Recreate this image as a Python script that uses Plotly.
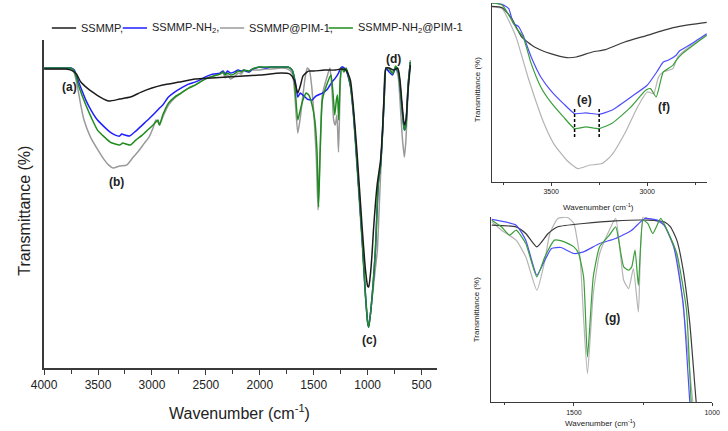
import plotly.graph_objects as go

# ---------------- main panel data (transmittance, arbitrary units) ----------------
wn_black = [4000,3800,3750,3700,3660,3600,3550,3480,3400,3300,3200,3100,3000,2900,2750,2600,2450,2300,2150,2000,1800,1720,1680,1648,1620,1600,1550,1500,1400,1300,1250,1200,1160,1130,1100,1050,1020,1000,990,975,960,946,925,910,880,860,845,830,800,760,720,700,680,660,645,625,604]
t_black  = [299,299,298,294,286,280,276,271,267,269,271,276,280,283,286,289,290,291,292,293,295,294,288,275,284,292,297,297,298,298,299,298,288,258,218,139,98,82,81,93,113,138,168,185,208,243,278,300,300,298,300,288,263,243,248,278,303]

wn_blue = [4000,3800,3750,3720,3676,3613,3560,3505,3440,3388,3340,3300,3280,3250,3207,3150,3090,3020,2964,2930,2900,2847,2790,2730,2660,2600,2540,2487,2430,2370,2340,2320,2300,2270,2240,2200,2170,2150,2100,2070,2000,1950,1900,1800,1740,1700,1670,1648,1625,1600,1560,1515,1480,1420,1380,1330,1300,1270,1250,1230,1200,1160,1130,1100,1050,1020,1000,990,970,950,928,901,880,860,845,830,800,770,740,715,700,680,660,645,625,604]
t_blue  = [300,300,300,298,285,268,257,248,241,236,233,232,234,233,232,237,243,250,256,260,263,271,276,280,284,286,289,292,294,295,297,294,297,295,296,298,297,298,296,299,301,300,301,301,301,298,286,271,275,273,269,268,272,275,278,286,290,295,300,301,298,283,253,208,128,73,46,41,58,83,118,185,203,238,273,300,296,293,300,296,283,258,238,243,283,306]

wn_gray = [4000,3800,3750,3720,3690,3660,3630,3570,3500,3440,3400,3360,3300,3235,3180,3117,3070,3027,2990,2964,2945,2930,2900,2847,2790,2730,2660,2600,2540,2487,2430,2370,2340,2320,2300,2270,2240,2200,2170,2150,2100,2070,2000,1950,1900,1800,1740,1700,1680,1648,1625,1600,1580,1560,1540,1520,1495,1475,1460,1440,1420,1380,1350,1330,1315,1300,1285,1270,1255,1240,1200,1160,1130,1100,1050,1020,1000,990,960,930,910,890,870,850,835,800,770,740,715,700,680,660,645,625,604]
t_gray  = [299,299,299,295,281,263,248,231,218,208,203,200,202,203,210,218,225,231,240,248,246,243,251,263,270,275,280,283,287,290,292,294,295,290,293,289,291,295,294,297,296,298,298,299,299,300,299,295,280,235,250,273,290,300,298,283,248,208,158,218,273,290,300,278,248,243,253,216,278,301,298,281,250,203,123,70,46,41,68,98,118,168,218,268,298,298,296,300,290,268,233,211,228,278,308]

wn_green = [4000,3800,3750,3720,3676,3613,3560,3505,3440,3388,3340,3300,3270,3240,3200,3150,3090,3020,2964,2945,2930,2900,2847,2790,2730,2660,2600,2540,2487,2430,2370,2340,2320,2300,2270,2240,2200,2170,2150,2100,2070,2000,1950,1900,1800,1740,1700,1680,1648,1625,1600,1570,1545,1515,1490,1470,1455,1440,1420,1380,1340,1320,1305,1290,1280,1268,1255,1240,1220,1200,1160,1130,1100,1050,1020,1000,990,970,950,928,901,880,860,845,830,800,770,740,715,700,680,660,645,625,604]
t_green  = [300,300,300,297,281,263,250,238,231,226,224,223,225,224,223,228,233,240,246,248,243,253,265,271,275,280,283,287,290,292,294,296,293,295,293,294,297,296,298,297,299,301,301,301,301,301,298,290,248,258,268,275,273,263,248,218,161,218,268,283,293,273,253,268,273,248,288,300,296,300,283,253,208,128,73,46,41,58,83,118,185,203,238,273,300,300,294,302,296,283,258,238,243,283,306]

# ---------------- inset 1 (O-H / N-H region) ----------------
wn1_black = [3809,3755,3705,3654,3587,3503,3419,3369,3285,3218,3117,3000,2916,2832,2690]
t1_black  = [527,523,490,435,405,385,373,375,390,397,420,440,455,467,479]
wn1_blue = [3809,3755,3721,3696,3671,3646,3604,3554,3503,3436,3378,3319,3252,3185,3084,3000,2950,2916,2891,2849,2832,2782,2690]
t1_blue  = [537,533,520,475,467,440,375,315,275,235,205,207,203,215,255,290,330,360,365,380,393,410,445]
wn1_gray = [3809,3755,3705,3680,3654,3621,3587,3537,3487,3419,3361,3302,3235,3185,3117,3050,3000,2966,2941,2916,2866,2841,2782,2690]
t1_gray  = [525,520,465,430,380,315,255,175,115,65,40,50,55,80,145,225,270,265,315,330,340,375,405,440]
wn1_green = [3809,3755,3705,3680,3646,3604,3554,3503,3436,3378,3319,3252,3185,3084,3008,2983,2953,2916,2866,2849,2816,2690]
t1_green  = [537,531,485,460,435,355,285,240,195,160,165,160,175,225,275,280,255,330,350,365,385,440]

# ---------------- inset 2 (fingerprint region) ----------------
wn2_black = [1797,1709,1674,1634,1593,1558,1465,1349,1233,1174,1151,1128,1105,1081,1058,1040]
t2_black  = [530,525,505,465,505,525,535,543,545,540,525,485,395,235,0,-150]
wn2_blue = [1797,1709,1674,1634,1605,1581,1547,1500,1465,1407,1349,1291,1244,1198,1174,1139,1105,1081,1060]
t2_blue  = [547,530,485,380,425,460,463,445,450,475,490,515,550,545,530,465,295,0,-200]
wn2_gray = [1797,1762,1709,1674,1634,1605,1587,1558,1523,1500,1488,1477,1465,1451,1430,1407,1372,1349,1320,1302,1285,1267,1250,1233,1209,1174,1128,1070,1050]
t2_gray  = [540,515,485,435,335,425,505,550,553,535,485,425,250,85,325,445,515,550,365,340,400,270,555,550,545,530,435,0,-150]
wn2_green = [1797,1762,1733,1709,1674,1634,1605,1570,1535,1500,1483,1465,1451,1430,1407,1372,1349,1320,1302,1291,1279,1267,1250,1233,1215,1186,1163,1128,1093,1076,1055]
t2_green  = [545,525,500,515,475,375,435,485,480,465,445,375,135,375,465,500,525,405,395,405,455,350,545,535,505,550,515,445,275,0,-200]

names = ["SSMMP", "SSMMP-NH<sub>2</sub>", "SSMMP@PIM-1", "SSMMP-NH<sub>2</sub>@PIM-1"]
col_main = {"black": "#1c1c1c", "blue": "#1f1fff", "gray": "#9a9a9a", "green": "#1e8c1e"}
col_ins = {"black": "#3a3a3a", "blue": "#4d4dff", "gray": "#b4b4b4", "green": "#3a9e3a"}

fig = go.Figure()

def add(x, y, color, width, xa, ya, name):
    fig.add_trace(go.Scatter(x=x, y=y, mode="lines", name=name, showlegend=False,
                             line=dict(color=color, width=width, shape="spline", smoothing=0.5),
                             xaxis=xa, yaxis=ya, hoverinfo="skip"))

main_series = [("gray", wn_gray, t_gray, names[2]), ("blue", wn_blue, t_blue, names[1]),
               ("green", wn_green, t_green, names[3]), ("black", wn_black, t_black, names[0])]
for c, x, y, n in main_series:
    add(x, y, col_main[c], 1.5, "x", "y", n)

ins1 = [("gray", wn1_gray, t1_gray), ("black", wn1_black, t1_black),
        ("blue", wn1_blue, t1_blue), ("green", wn1_green, t1_green)]
for c, x, y in ins1:
    add(x, y, col_ins[c], 1.2, "x2", "y2", c)

ins2 = [("gray", wn2_gray, t2_gray), ("black", wn2_black, t2_black),
        ("blue", wn2_blue, t2_blue), ("green", wn2_green, t2_green)]
for c, x, y in ins2:
    add(x, y, col_ins[c], 1.2, "x3", "y3", c)

FONT = "Arial, Liberation Sans, sans-serif"
axcol = "#3a3a3a"

def xax(domain, rng, anchor, fs, lw, tl):
    return dict(domain=domain, range=rng, anchor=anchor, showline=True, linecolor=axcol,
                linewidth=lw, ticks="outside", ticklen=tl, tickcolor=axcol, tickwidth=1,
                dtick=500, tick0=0, showgrid=False, zeroline=False,
                tickfont=dict(family=FONT, size=fs, color="#222"),
                minor=dict(dtick=250, tick0=0, ticks="outside", ticklen=tl - 1, tickcolor=axcol, showgrid=False))

def yax(domain, rng, anchor, lw):
    return dict(domain=domain, range=rng, anchor=anchor, showline=True, linecolor=axcol,
                linewidth=lw, showticklabels=False, ticks="", showgrid=False, zeroline=False)

fig.update_layout(
    width=728, height=431, margin=dict(l=0, r=0, t=0, b=0),
    paper_bgcolor="white", plot_bgcolor="white",
    xaxis=xax([0.044, 0.600], [4000, 355], "y", 12, 1.5, 5),
    yaxis=yax([0.146, 0.907], [0, 328], "x", 1.5),
    xaxis2=xax([0.677, 0.982], [3810, 2687], "y2", 7, 1, 3),
    yaxis2=yax([0.578, 0.993], [0, 537], "x2", 1),
    xaxis3=xax([0.676, 0.989], [1800, 1000], "y3", 7, 1, 3),
    yaxis3=yax([0.067, 0.497], [0, 555], "x3", 1),
)

ann = []
def text(x, y, s, size, bold=False, angle=0, xref="paper", yref="paper", color="#222"):
    ann.append(dict(x=x, y=y, xref=xref, yref=yref, text=("<b>%s</b>" % s) if bold else s,
                    showarrow=False, textangle=angle, font=dict(family=FONT, size=size, color=color),
                    xanchor="center", yanchor="middle"))

W, H = 728.0, 431.0
def px(x, y):
    return x / W, 1 - y / H

# axis titles
text(*px(233, 412), "Wavenumber (cm<sup>-1</sup>)", 16)
text(*px(11, 211), "Transmittance (%)", 16, angle=-90)
text(*px(603, 207), "Wavenumber (cm<sup>-1</sup>)", 8)
text(*px(478, 90), "Transmittance (%)", 8, angle=-90)
text(*px(605, 423), "Wavenumber (cm<sup>-1</sup>)", 8)
text(*px(477, 310), "Transmittance (%)", 8, angle=-90)

# peak labels
for s, x, y in [("(a)", 58, 87), ("(b)", 107, 182), ("(c)", 367, 340), ("(d)", 392, 59),
                ("(e)", 588, 100), ("(f)", 670, 107), ("(g)", 617, 318)]:
    text(*px(x, y), s, 12, bold=True)

# legend (drawn manually to match the single-line header)
shapes = []
leg = [(names[0] + ",", col_main["black"], 40), (names[1] + ",", col_main["blue"], 113),
       (names[2] + ",", col_main["gray"], 213), (names[3], col_main["green"], 325)]
for lab, c, x0 in leg:
    x0p, yp = px(x0, 28)
    x1p, _ = px(x0 + 25, 28)
    shapes.append(dict(type="line", xref="paper", yref="paper", x0=x0p, x1=x1p, y0=yp, y1=yp,
                       line=dict(color=c, width=1.5)))
    ann.append(dict(x=px(x0 + 28, 28)[0], y=yp, xref="paper", yref="paper", text=lab, showarrow=False,
                    xanchor="left", yanchor="middle", font=dict(family=FONT, size=11, color="#222")))

# dashed markers in inset 1
for w in [3378, 3250]:
    shapes.append(dict(type="line", xref="x2", yref="y2", x0=w, x1=w, y0=135, y1=222,
                       line=dict(color="black", width=1.5, dash="3px,2px")))

fig.update_layout(annotations=ann, shapes=shapes)
fig.write_html("out.html")
